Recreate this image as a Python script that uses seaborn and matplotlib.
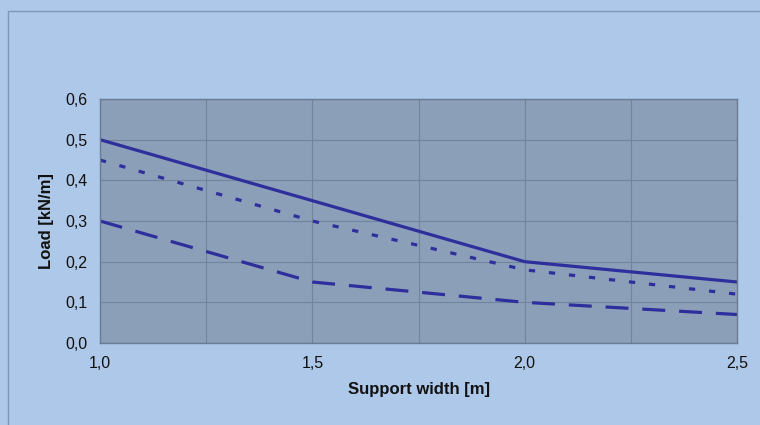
import matplotlib
matplotlib.use("Agg")
import matplotlib.pyplot as plt
import matplotlib.patches as patches
from matplotlib.ticker import MultipleLocator, FuncFormatter
import pandas as pd
import seaborn as sns

# Data
support_width = [1.0, 1.5, 2.0, 2.5]
load_solid = [0.50, 0.35, 0.20, 0.15]
load_dotted = [0.45, 0.30, 0.18, 0.12]
load_dashed = [0.30, 0.15, 0.10, 0.07]
series_names = ["solid", "dotted", "dashed"]

df = pd.DataFrame({
    "width": support_width * 3,
    "load": load_solid + load_dotted + load_dashed,
    "series": [s for s in series_names for _ in support_width],
})

sns.set_style("white")
plt.rcParams["font.family"] = ["Liberation Sans", "DejaVu Sans"]
plt.rcParams["lines.scale_dashes"] = False

bg = "#ADC8E8"
plot_bg = "#8B9FB9"
grid_col = "#71849D"
line_col = "#2E2E9C"

fig = plt.figure(figsize=(7.6, 4.25), dpi=100, facecolor=bg)
ax = fig.add_axes([100 / 760, 1 - 343 / 425, 637 / 760, 244 / 425])
ax.set_facecolor(plot_bg)

# outer chart border
fig.patches.append(patches.Rectangle((8 / 760, -0.1), 1.2, 1 - 11 / 425 + 0.1,
                                     transform=fig.transFigure, fill=False,
                                     edgecolor="#7F97B5", linewidth=1.0))

sns.lineplot(data=df, x="width", y="load", style="series",
             dashes={"solid": "", "dotted": (4.5, 10), "dashed": (16.5, 10)},
             color=line_col, linewidth=2.3, legend=False, ax=ax)

ax.set_xlim(1.0, 2.5)
ax.set_ylim(0, 0.6)
ax.xaxis.set_major_locator(MultipleLocator(0.5))
ax.xaxis.set_minor_locator(MultipleLocator(0.25))
ax.yaxis.set_major_locator(MultipleLocator(0.1))
fmt = FuncFormatter(lambda v, p: f"{v:.1f}".replace(".", ","))
ax.xaxis.set_major_formatter(fmt)
ax.yaxis.set_major_formatter(fmt)

ax.grid(True, which="both", color=grid_col, linewidth=0.8)
ax.set_axisbelow(True)
ax.tick_params(axis="both", which="major", length=4, width=0.8, color="#7D8FA6",
               labelsize=11.5, labelcolor="#111111", pad=5)
ax.tick_params(axis="x", which="minor", length=0)
for sp in ax.spines.values():
    sp.set_color("#6A7B92")
    sp.set_linewidth(1.0)

ax.set_xlabel("Support width [m]", fontsize=12, fontweight="bold", labelpad=8, color="#111111")
ax.set_ylabel("Load [kN/m]", fontsize=12, fontweight="bold", labelpad=8, color="#111111")

fig.savefig("out.png", dpi=100, facecolor=bg)
